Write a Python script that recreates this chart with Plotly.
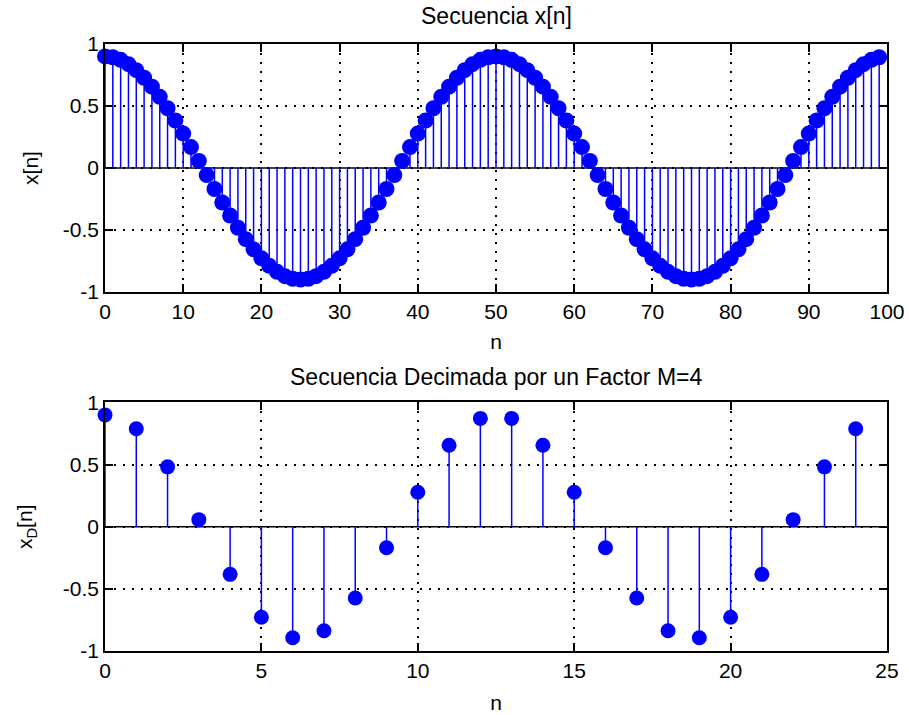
import plotly.graph_objects as go

# ---- data ----
n_top = list(range(100))
x_vals = [
    0.900, 0.893, 0.872, 0.837, 0.789, 0.728, 0.656, 0.574, 0.482, 0.383,
    0.278, 0.169, 0.057, -0.057, -0.169, -0.278, -0.383, -0.482, -0.574, -0.656,
    -0.728, -0.789, -0.837, -0.872, -0.893, -0.900, -0.893, -0.872, -0.837, -0.789,
    -0.728, -0.656, -0.574, -0.482, -0.383, -0.278, -0.169, -0.057, 0.057, 0.169,
    0.278, 0.383, 0.482, 0.574, 0.656, 0.728, 0.789, 0.837, 0.872, 0.893,
    0.900, 0.893, 0.872, 0.837, 0.789, 0.728, 0.656, 0.574, 0.482, 0.383,
    0.278, 0.169, 0.057, -0.057, -0.169, -0.278, -0.383, -0.482, -0.574, -0.656,
    -0.728, -0.789, -0.837, -0.872, -0.893, -0.900, -0.893, -0.872, -0.837, -0.789,
    -0.728, -0.656, -0.574, -0.482, -0.383, -0.278, -0.169, -0.057, 0.057, 0.169,
    0.278, 0.383, 0.482, 0.574, 0.656, 0.728, 0.789, 0.837, 0.872, 0.893,
]
n_dec = list(range(25))
xd_vals = [
    0.900, 0.789, 0.482, 0.057, -0.383, -0.728, -0.893, -0.837, -0.574, -0.169,
    0.278, 0.656, 0.872, 0.872, 0.656, 0.278, -0.169, -0.574, -0.837, -0.893,
    -0.728, -0.383, 0.057, 0.482, 0.789,
]
y_tickvals = [-1, -0.5, 0, 0.5, 1]
y_ticktext = ["-1", "-0.5", "0", "0.5", "1"]
x_top_ticks = [0, 10, 20, 30, 40, 50, 60, 70, 80, 90, 100]
x_bot_ticks = [0, 5, 10, 15, 20, 25]

BLUE = "#0000FF"
FONT = "Liberation Sans"
FS = 21
FS_T = 23


def stems(xs, ys):
    sx, sy = [], []
    for a, b in zip(xs, ys):
        sx += [a, a, None]
        sy += [0, b, None]
    return sx, sy


fig = go.Figure()
for xs, ys, xa, ya, ms in [(n_top, x_vals, "x", "y", 16), (n_dec, xd_vals, "x2", "y2", 15)]:
    sx, sy = stems(xs, ys)
    fig.add_trace(go.Scatter(x=sx, y=sy, mode="lines", line=dict(color=BLUE, width=1.5),
                             xaxis=xa, yaxis=ya, showlegend=False, hoverinfo="skip"))
    fig.add_trace(go.Scatter(x=xs, y=ys, mode="markers", cliponaxis=False,
                             marker=dict(color=BLUE, size=ms, line=dict(width=0)),
                             xaxis=xa, yaxis=ya, showlegend=False))

axis_common = dict(
    showline=True, linecolor="black", linewidth=1.5, mirror="ticks",
    ticks="inside", ticklen=8, tickwidth=1.5, tickcolor="black",
    showgrid=True, gridcolor="black", gridwidth=1.5, griddash="2px,7px",
    zeroline=False, automargin=False,
    tickfont=dict(family=FONT, size=FS, color="black"),
    title_font=dict(family=FONT, size=FS, color="black"),
)

fig.update_layout(
    width=909, height=715,
    margin=dict(l=105, r=22, t=44, b=64),
    plot_bgcolor="white", paper_bgcolor="white",
    font=dict(family=FONT, size=FS, color="black"),
    xaxis=dict(domain=[0, 1], anchor="y", range=[0, 100], tickvals=x_top_ticks,
               title=dict(text="n", standoff=12), **axis_common),
    yaxis=dict(domain=[0.5914, 1], anchor="x", range=[-1, 1], tickvals=y_tickvals,
               ticktext=y_ticktext, title=dict(text="x[n]", standoff=19), **axis_common),
    xaxis2=dict(domain=[0, 1], anchor="y2", range=[0, 25], tickvals=x_bot_ticks,
                title=dict(text="n", standoff=14), **axis_common),
    yaxis2=dict(domain=[0, 0.4094], anchor="x2", range=[-1, 1], tickvals=y_tickvals,
                ticktext=y_ticktext, title=dict(text="x<sub>D</sub>[n]", standoff=24), **axis_common),
    annotations=[
        dict(text="Secuencia x[n]", xref="paper", yref="paper", x=0.5, y=1,
             yshift=28, yanchor="middle", showarrow=False,
             font=dict(family=FONT, size=FS_T, color="black")),
        dict(text="Secuencia Decimada por un Factor M=4", xref="paper", yref="paper",
             x=0.5, y=0.4094, yshift=25, yanchor="middle", showarrow=False,
             font=dict(family=FONT, size=FS_T, color="black")),
    ],
    shapes=[
        dict(type="line", xref="x", yref="y", x0=0, x1=100, y0=0, y1=0,
             line=dict(color="black", width=1.5), layer="below"),
        dict(type="line", xref="x2", yref="y2", x0=0, x1=25, y0=0, y1=0,
             line=dict(color="black", width=1.5), layer="below"),
    ],
)

fig.write_html("out.html", config={"displayModeBar": False},
               post_script="document.body.style.margin='0';document.body.style.overflow='hidden';")
